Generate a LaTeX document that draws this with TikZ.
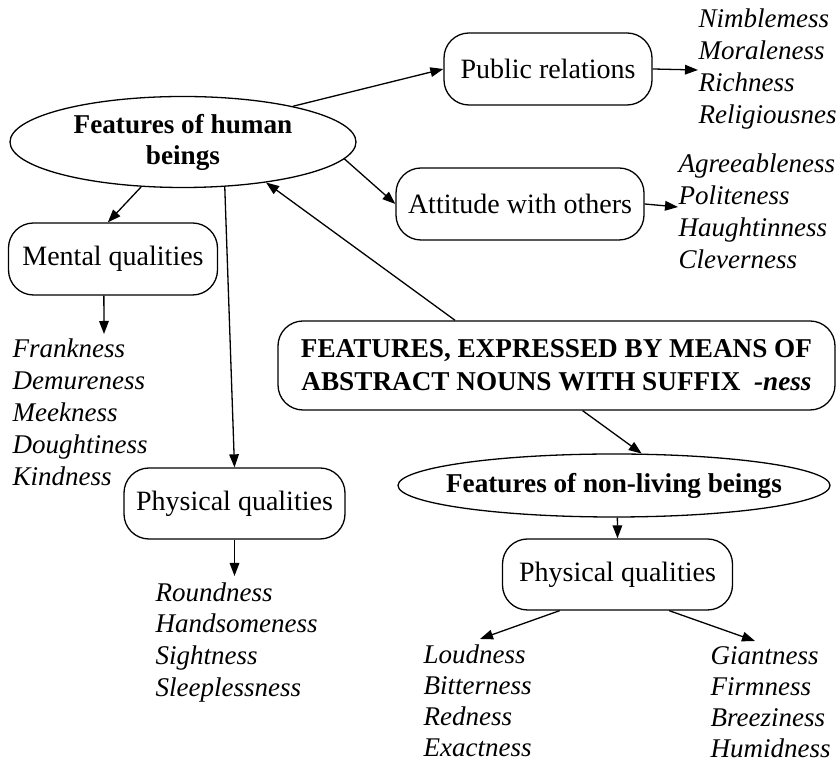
\documentclass[tikz,border=0pt]{standalone}
\usepackage{fontspec}
\setmainfont{Liberation Serif}
\usepackage{tikz}
\usetikzlibrary{arrows.meta,shapes.geometric}

\begin{document}
\begin{tikzpicture}[x=0.5pt,y=-0.5pt,->,>={Triangle[length=6.5pt,width=4.8pt]},line width=0.65pt,
	every node/.style={font=\fontsize{14}{16}\selectfont},
	qual box/.style={draw,rounded corners=12.5pt,inner sep=0pt,align=center},
	feat oval/.style={draw,ellipse,inner sep=0pt,align=center,font=\fontsize{13.6}{15.5}\selectfont\bfseries},
	word/.style={anchor=base west,inner sep=0pt,font=\fontsize{13.5}{16}\selectfont\itshape}]

				\useasboundingbox (0,0) rectangle (836,763);

				\node[feat oval,minimum width=173pt,minimum height=45.5pt] (human) at (183,142) {Features of human\\beings};
				\node[qual box,minimum width=104pt,minimum height=36pt] (pubrel) at (548,69) {Public relations};
				\node[qual box,minimum width=124pt,minimum height=36pt] (attitude) at (520,204) {Attitude with others};
				\node[qual box,minimum width=104.5pt,minimum height=36pt] (mental) at (113,259) {Mental qualities};
				\node[qual box,minimum width=110.5pt,minimum height=35.5pt] (physL) at (234.5,503.5) {Physical qualities};
				\node[qual box,minimum width=278.5pt,minimum height=44.5pt,font=\fontsize{13.6}{16.5}\selectfont\bfseries] (big) at (556.5,365.5)
					{FEATURES, EXPRESSED BY MEANS OF\\ABSTRACT NOUNS WITH SUFFIX\ \ \textit{-ness}};
				\node[feat oval,inner xsep=-30pt,minimum width=216pt,minimum height=31.5pt] (nonliving) at (614,485.5) {Features of non-living beings};
				\node[qual box,minimum width=115pt,minimum height=35.5pt] (physR) at (617.5,574.5) {Physical qualities};

				\foreach \word/\ypos in {Nimblemess/28, Moraleness/60, Richness/92, Religiousnes/124}
					\node[word] (w-\word) at (698,\ypos) {\word};
				\foreach \word/\ypos in {Agreeableness/173, Politeness/205, Haughtinness/237, Cleverness/269}
					\node[word] (w-\word) at (678,\ypos) {\word};
				\foreach \word/\ypos in {Frankness/358, Demureness/390, Meekness/422, Doughtiness/454, Kindness/486}
					\node[word] (w-\word) at (12,\ypos) {\word};
				\foreach \word/\ypos in {Roundness/602, Handsomeness/633, Sightness/665, Sleeplessness/697}
					\node[word] (w-\word) at (155,\ypos) {\word};
				\foreach \word/\ypos in {Loudness/664, Bitterness/695, Redness/726, Exactness/757}
					\node[word] (w-\word) at (423,\ypos) {\word};
				\foreach \word/\ypos in {Giantness/665, Firmness/696, Breeziness/727, Humidness/758}
					\node[word] (w-\word) at (710,\ypos) {\word};

				\coordinate (prlist) at (698,70);
				\coordinate (atlist) at (678,207);
				\coordinate (mqlist) at (104,334);
				\coordinate (pllist) at (234.5,576);
				\coordinate (loudlist) at (480,639);
				\coordinate (giantlist) at (755,641);

				\foreach \source/\dest in {human.18/pubrel.west, human.-6/attitude.west, human.-133/mental.98, human.-47/physL.north,
						big.156/human.-26, big.-60/nonliving.49, nonliving.-84/physR.north,
						pubrel.east/prlist, attitude.east/atlist, mental.-104/mqlist, physL.south/pllist,
						physR.-148/loudlist, physR.-35/giantlist}
					\path (\source) edge (\dest);
			\end{tikzpicture}
\end{document}
